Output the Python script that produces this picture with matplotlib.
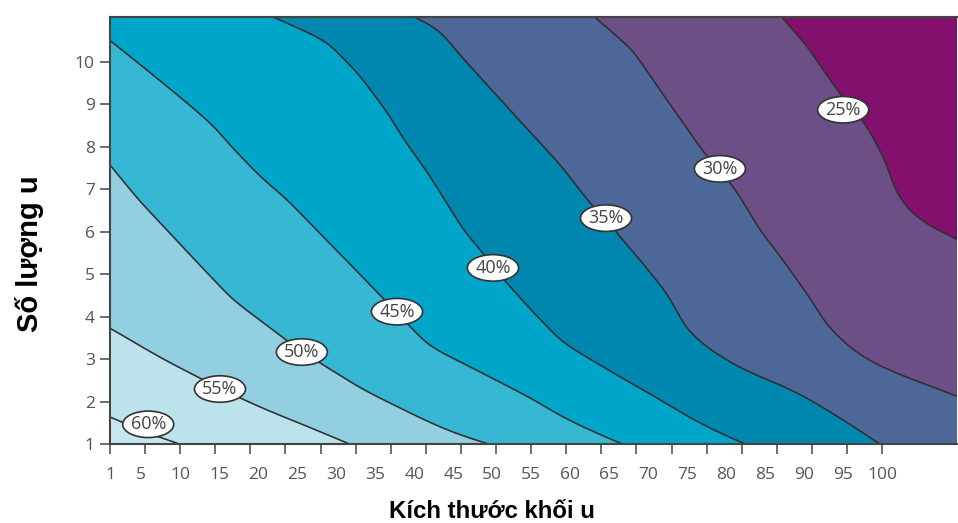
import numpy as np
import matplotlib
matplotlib.use("Agg")
import matplotlib.pyplot as plt

# ---- data -----------------------------------------------------------------
# contour levels (survival %) and the lines they follow, as (tumour size, tumour count)
# points beyond the frame only continue each line outside the visible area
levels = [60, 55, 50, 45, 40, 35, 30, 25]

line_60 = [(-80, 11.04), (-25, 4.0), (-8, 2.5), (1, 1.85), (5.6, 1.47), (8.7, 1.29),
           (12.5, 1.03)]
line_55 = [(-50, 11.04), (-12, 5.0), (1, 3.74), (7.4, 3.05), (15.1, 2.32), (20.2, 1.88),
           (26.6, 1.41), (31.5, 1.03)]
line_50 = [(-15, 11.04), (-4, 8.8), (1, 7.62), (4.85, 6.75), (16.8, 4.40), (25.7, 3.17),
           (28.8, 2.82), (33.4, 2.28), (37.8, 1.88), (42.0, 1.50), (46.3, 1.17),
           (49.1, 1.03)]
line_45 = [(-3.2, 11.04), (1, 10.44), (5.7, 9.76), (11.3, 8.93), (14.2, 8.47), (16.8, 7.93),
           (20.2, 7.29), (23.7, 6.75), (27.5, 6.04), (33.4, 4.94), (37.7, 4.12),
           (39.9, 3.69), (42.0, 3.29), (46.3, 2.91), (50.6, 2.51), (54.9, 2.11),
           (59.1, 1.64), (63.4, 1.27), (66.4, 1.03)]
line_40 = [(22.4, 11.04), (28.8, 10.53), (33.0, 9.74), (36.5, 8.87), (39.1, 8.09),
           (41.6, 7.45), (44.2, 6.68), (46.3, 6.04), (48.8, 5.50), (50.1, 5.15),
           (52.3, 4.70), (54.9, 4.17), (59.1, 3.38), (63.4, 2.91), (67.7, 2.44),
           (71.5, 2.04), (75.7, 1.57), (80.1, 1.17), (82.4, 1.0)]
line_35 = [(39.9, 11.04), (42.9, 10.78), (45.9, 10.11), (50.1, 9.27), (54.5, 8.40),
           (58.7, 7.57), (62.9, 6.58), (64.6, 6.32), (66.0, 5.97), (69.3, 5.27),
           (72.4, 4.56), (75.0, 3.69), (77.9, 3.22), (82.2, 2.75), (88.6, 2.28),
           (92.9, 1.81), (96.3, 1.41), (99.5, 1.0)]
line_30 = [(63.2, 11.04), (68.0, 10.28), (72.4, 9.10), (77.5, 7.76), (79.2, 7.48),
           (81.8, 6.82), (84.3, 6.04), (87.8, 5.17), (90.7, 4.40), (92.9, 3.76),
           (95.9, 3.22), (99.3, 2.82), (103.6, 2.51), (109.7, 2.11), (118, 1.5)]
line_25 = [(85.9, 11.04), (89.5, 10.28), (93.7, 9.17), (95.0, 8.87), (97.2, 8.40),
           (99.3, 7.69), (101.0, 6.82), (103.2, 6.28), (106.5, 5.88), (109.7, 5.64),
           (125, 3.5)]

# where the percentage tags sit (tumour size, tumour count)
label_x = [5.9, 15.1, 25.6, 37.8, 50.1, 64.6, 79.2, 95.0]
label_y = [1.47, 2.30, 3.17, 4.12, 5.15, 6.32, 7.48, 8.87]
label_text = ["60%", "55%", "50%", "45%", "40%", "35%", "30%", "25%"]

x_tick_labels = [1, 5, 10, 15, 20, 25, 30, 35, 40, 45, 50, 55, 60, 65, 70, 75, 80, 85,
                 90, 95, 100]
y_ticks = [1, 2, 3, 4, 5, 6, 7, 8, 9, 10]

band_colors = ["#84106E", "#6C4F87", "#4D6898", "#0087AF", "#00A5CA",
               "#36B7D4", "#92CFE1", "#BCE2EC", "#C8E6EF"]

# ---- build the field from the traced lines --------------------------------
X_MIN, X_MAX = 1.0, 109.6
Y_MIN, Y_MAX = 1.0, 11.04
xg = np.linspace(-10, 122, 1100)
yg = np.linspace(0.0, 12.0, 520)
lines = [line_60, line_55, line_50, line_45, line_40, line_35, line_30, line_25]


def _x_at(yv, pts):
    pts = sorted(pts, key=lambda p: p[1])
    ys = np.array([p[1] for p in pts])
    xs = np.array([p[0] for p in pts])
    if yv < ys[0]:
        s = (xs[1] - xs[0]) / (ys[1] - ys[0])
        return xs[0] + s * (yv - ys[0])
    if yv > ys[-1]:
        s = (xs[-1] - xs[-2]) / (ys[-1] - ys[-2])
        return xs[-1] + s * (yv - ys[-1])
    return np.interp(yv, ys, xs)


Z = np.empty((len(yg), len(xg)))
for i, yv in enumerate(yg):
    xs = [_x_at(yv, ln) for ln in lines]
    xp = [-400.0] + xs + [500.0]
    fp = [65.0] + [float(v) for v in levels] + [20.0]
    Z[i] = np.interp(xg, xp, fp)


def _kernel(sigma):
    r = int(3 * sigma)
    t = np.arange(-r, r + 1)
    k = np.exp(-0.5 * (t / sigma) ** 2)
    return k / k.sum()


def _soften(field, sx, sy):
    kx, ky = _kernel(sx), _kernel(sy)
    rx, ry = len(kx) // 2, len(ky) // 2
    f = np.pad(field, ((ry, ry), (rx, rx)), mode="edge")
    f = np.apply_along_axis(lambda r: np.convolve(r, kx, mode="valid"), 1, f)
    f = np.apply_along_axis(lambda c: np.convolve(c, ky, mode="valid"), 0, f)
    return f


Z = _soften(Z, 7, 7)

# ---- draw -----------------------------------------------------------------
fig = plt.figure(figsize=(9.58, 5.23), dpi=100)
ax = fig.add_axes([110 / 958, (523 - 444.3) / 523, (957 - 110) / 958, (444.3 - 17.5) / 523])

fill_levels = [20, 25, 30, 35, 40, 45, 50, 55, 60, 65]
ax.contourf(xg, yg, Z, levels=fill_levels, colors=band_colors)
ax.contour(xg, yg, Z, levels=sorted(levels), colors="#2e2e2e", linewidths=1.15)

for lx, ly, t in zip(label_x, label_y, label_text):
    ax.text(lx, ly, t, ha="center", va="center", fontsize=13, color="#444444",
            family="Open Sans", zorder=5,
            bbox=dict(boxstyle="ellipse,pad=0.02", fc="white", ec="#333333", lw=1.2))

ax.set_xlim(X_MIN, X_MAX)
ax.set_ylim(Y_MIN, Y_MAX)

# tick marks: 23 evenly spaced marks from 1 to 100; number labels sit at their own values
ax.xaxis.remove_overlapping_locs = False
ax.set_xticks(np.linspace(1, 100, 23))
ax.set_xticklabels([])
ax.set_xticks(x_tick_labels, labels=[str(v) for v in x_tick_labels], minor=True)
ax.tick_params(axis="x", which="major", length=7, width=1.2, color="#555555", direction="out")
ax.tick_params(axis="x", which="minor", length=0, pad=16, labelsize=12.5,
               labelcolor="#555555")
ax.set_yticks(y_ticks)
ax.set_yticklabels([str(v) for v in y_ticks])
ax.tick_params(axis="y", length=7, width=1.2, color="#555555", pad=4, labelsize=12.5,
               labelcolor="#555555")
for lab in ax.get_xticklabels(minor=True) + ax.get_yticklabels():
    lab.set_family("Open Sans")

for side in ["left", "bottom", "top"]:
    ax.spines[side].set_color("#444444")
    ax.spines[side].set_linewidth(1.5)
ax.spines["right"].set_visible(False)

fig.text(492 / 958, 1 - 511 / 523, "Kích thước khối u", ha="center", va="center",
         fontsize=17.3, fontweight="bold", family="Liberation Sans", color="black")
fig.text(30 / 958, 1 - 254 / 523, "Số lượng u", ha="center", va="center", rotation=90,
         fontsize=21, fontweight="bold", family="Liberation Sans", color="black")

fig.savefig("out.png", dpi=100)
